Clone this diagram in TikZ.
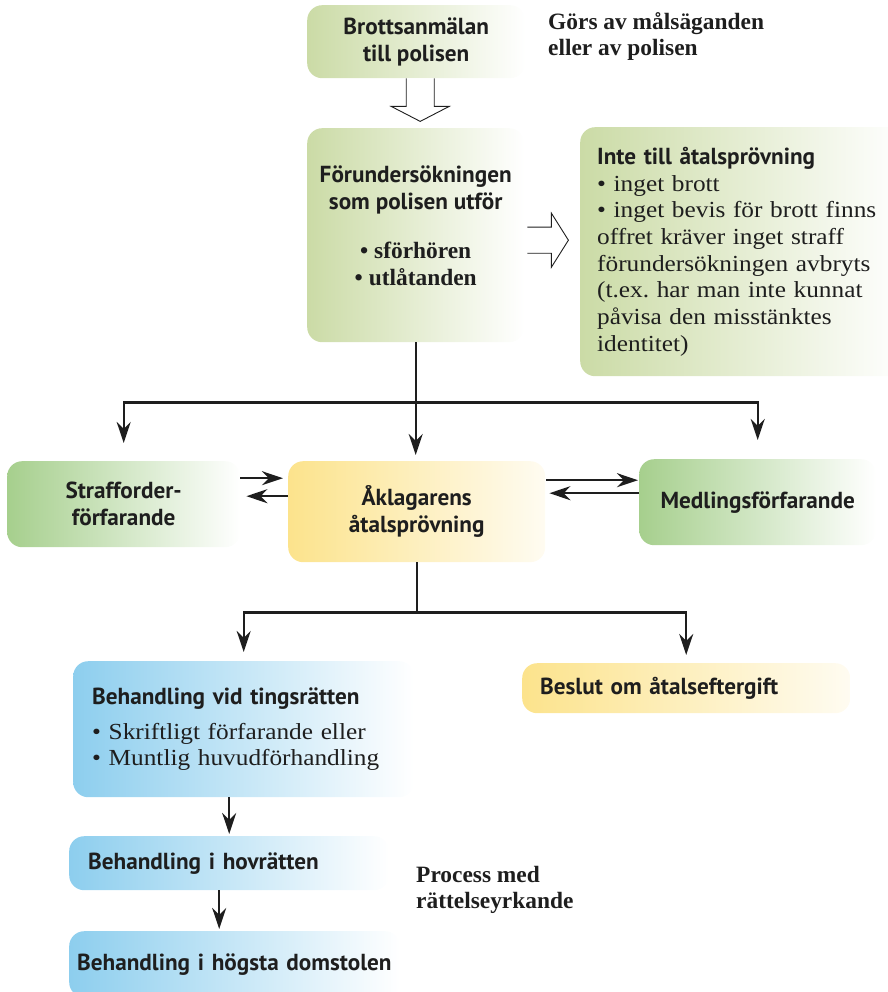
\documentclass[tikz,border=0pt]{standalone}
\usepackage{fontspec}
\setmainfont{Liberation Serif}
\newfontfamily\bodyserif{Liberation Serif}[FakeStretch=1.1]
\setsansfont{PT Sans}
\usetikzlibrary{calc, arrows.meta}
\definecolor{palegreen}{RGB}{203,219,166}
\definecolor{leafgreen}{RGB}{166,207,141}
\definecolor{sunyellow}{RGB}{252,227,140}
\definecolor{skyblue}{RGB}{141,206,238}
\definecolor{ink}{RGB}{30,30,30}
\frenchspacing
\newcommand\boxhead{\sffamily\bfseries\fontsize{23.2}{27}\selectfont}
\newcommand\boxbody{\bodyserif\fontsize{23}{26.7}\selectfont}
\newcommand\boxnote{\rmfamily\bfseries\fontsize{23.4}{26.5}\selectfont}
\tikzset{
  box/.style={rounded corners=15pt, inner sep=0pt, anchor=north west, text=ink},
  palebox/.style={shade, left color=palegreen, right color=white},
  leafbox/.style={shade, left color=leafgreen, right color=white},
  sunbox/.style={shade, left color=sunyellow, right color=sunyellow!12},
  skybox/.style={shade, left color=skyblue, right color=white},
  arr/.style={draw=ink, line width=2.2pt, -{Stealth[length=21pt, width=14pt]}},
  hollow/.style={draw=ink, line width=0.9pt, fill=white},
}
\begin{document}
\begin{tikzpicture}[x=1pt, y=-1pt]
\useasboundingbox (0,0) rectangle (887,992);
% police part
\node[box, palebox, minimum width=218pt, minimum height=73pt, align=center, font=\boxhead] (brott) at (307,5) {Brottsanmälan\\till polisen};
\node[anchor=north west, inner sep=0pt, align=left, font=\boxnote, text=ink] (gors) at (548,12) {Görs av målsäganden\\eller av polisen};
\node[box, palebox, minimum width=217pt, minimum height=214pt, align=center, font=\boxhead, text depth=20pt] (forund) at (307,128) {Förundersökningen\\som polisen utför\\[22pt]{\boxnote\textbullet\ sförhören}\\{\boxnote\textbullet\ utlåtanden}};
\node[box, palebox, minimum height=249pt, text width=290pt, inner xsep=17pt, align=left, font=\boxbody] (inte) at (580,127) {{\boxhead Inte till åtalsprövning}\\\textbullet\ inget brott\\\textbullet\ inget bevis för brott finns\\offret kräver inget straff\\förundersökningen avbryts\\(t.ex. har man inte kunnat\\påvisa den misstänktes\\identitet)};
\draw[hollow] ($(brott.south)+(-10,0)$) -- ++(0,28) -- ++(-15,0) -- ++(29,15) -- ++(29,-15) -- ++(-15,0) -- ++(0,-28);
\draw[hollow] ($(forund.east)+(3,-8)$) -- ++(24,0) -- ++(0,-14) -- ++(17,27) -- ++(-17,27) -- ++(0,-14) -- ++(-24,0);
% prosecutor
\node[box, leafbox, minimum width=233pt, minimum height=86pt, align=center, font=\boxhead] (straff) at (7,461) {Strafforder-\\förfarande};
\node[box, sunbox, minimum width=257pt, minimum height=101pt, align=center, font=\boxhead] (akl) at (288,461) {Åklagarens\\åtalsprövning};
\node[box, leafbox, minimum width=237pt, minimum height=86pt, font=\boxhead] (medl) at (639,459) {Medlingsförfarande};
\coordinate (split1) at ($(forund.south)+(0,60)$);
\draw[arr, shorten >=6pt] (forund.south) -- (forund.south |- akl.north);
\draw[arr, shorten >=18pt] (split1) -| (straff.north);
\draw[arr, shorten >=19pt] (split1) -| (medl.north);
\draw[arr] ($(straff.east)+(0,-26)$) -- ($(akl.west)+(-5,-33.5)$);
\draw[arr] ($(akl.west)+(0,-15.5)$) -- ($(straff.east)+(6,-8)$);
\draw[arr] ($(akl.east)+(1,-31.5)$) -- ($(medl.west)+(-1,-22)$);
\draw[arr] ($(medl.west)+(0,-9)$) -- ($(akl.east)+(4,-18.5)$);
% courts
\node[box, skybox, minimum height=136pt, text width=303pt, inner xsep=19pt, align=left, font=\boxbody] (ting) at (73,661) {{\boxhead Behandling vid tingsrätten}\\[8pt]\textbullet\ Skriftligt förfarande eller\\\textbullet\ Muntlig huvudförhandling};
\node[box, sunbox, minimum height=50pt, text width=292pt, inner xsep=18pt, align=left, font=\boxhead] (beslut) at (522,663) {Beslut om åtalseftergift};
\node[box, skybox, minimum height=54pt, text width=282pt, inner xsep=19pt, align=left, font=\boxhead] (hov) at (69,836) {Behandling i hovrätten};
\node[box, skybox, minimum height=66pt, text width=315pt, inner xsep=8pt, align=left, font=\boxhead] (hogsta) at (69,931) {Behandling i högsta domstolen};
\node[anchor=north west, inner sep=0pt, align=left, font=\boxnote, text=ink] (process) at (416,866) {Process med\\rättelseyrkande};
\coordinate (split2) at ($(akl.south)+(0,50)$);
\draw[arr, shorten >=9pt] (akl.south) -- (split2) -| (ting.north);
\draw[arr, shorten >=8pt] (split2) -| (beslut.north);
\coordinate (t1) at ($(ting.south)+(-14.5,0)$);
\draw[arr, shorten >=2pt] (t1) -- (t1 |- hov.north);
\coordinate (t2) at ($(hov.south)+(-10,0)$);
\draw[arr, shorten >=2pt] (t2) -- (t2 |- hogsta.north);
\end{tikzpicture}
\end{document}
